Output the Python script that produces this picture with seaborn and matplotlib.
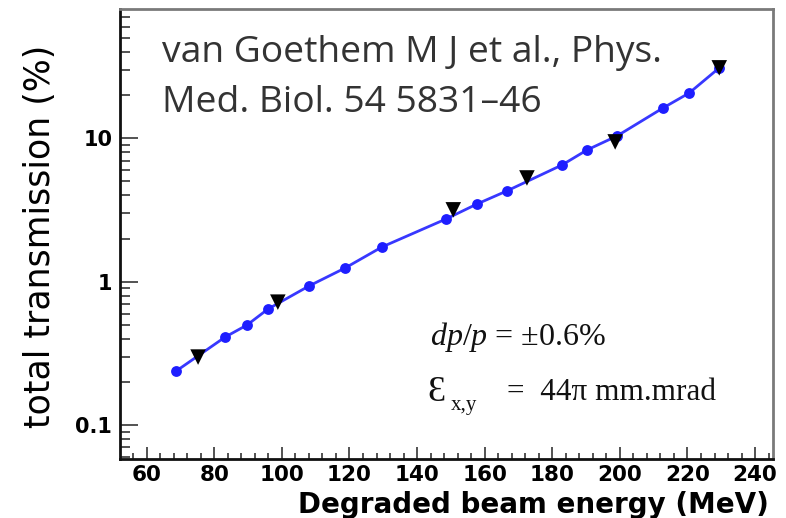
import matplotlib
matplotlib.use('Agg')
import matplotlib.pyplot as plt
import seaborn as sns
import pandas as pd
from matplotlib.ticker import MultipleLocator, LogLocator, NullFormatter, FixedLocator, FixedFormatter

# ---- data ----
energy_circ = [68.7, 83.2, 89.7, 95.9, 108.0, 118.7, 129.6, 148.6, 157.7,
               166.6, 182.9, 190.3, 199.2, 212.8, 220.5, 229.4]
trans_circ = [0.238, 0.411, 0.499, 0.645, 0.933, 1.246, 1.746, 2.74, 3.48,
              4.30, 6.52, 8.30, 10.4, 16.3, 20.7, 31.0]
energy_tri = [75.2, 98.8, 150.7, 172.5, 198.6, 229.4]
trans_tri = [0.298, 0.72, 3.17, 5.29, 9.44, 31.0]
x_ticks = [60, 80, 100, 120, 140, 160, 180, 200, 220, 240]
y_ticks = [0.1, 1, 10]
y_tick_labels = ['0.1', '1', '10']

sns.set_style('ticks')
plt.rcParams['font.family'] = ['DejaVu Sans']
plt.rcParams['mathtext.fontset'] = 'custom'
plt.rcParams['mathtext.rm'] = 'Liberation Serif'
plt.rcParams['mathtext.it'] = 'Liberation Serif:italic'

W, H = 786, 518
fig = plt.figure(figsize=(W / 100, H / 100), dpi=100)
L, R, T, B = 120, 773, 9.3, 459
ax = fig.add_axes([L / W, 1 - B / H, (R - L) / W, (B - T) / H])

blue = '#1e1eff'
df_c = pd.DataFrame({'energy': energy_circ, 'trans': trans_circ})
df_t = pd.DataFrame({'energy': energy_tri, 'trans': trans_tri})

sns.lineplot(data=df_c, x='energy', y='trans', ax=ax, color='#3838ff',
             linewidth=2.0, estimator=None, marker='o', markersize=7.8,
             markerfacecolor=blue, markeredgewidth=0, zorder=2)
sns.scatterplot(data=df_t, x='energy', y='trans', ax=ax, marker='v',
                s=125, color='black', edgecolor='none', zorder=3)

ax.set_yscale('log')
ax.set_xlim(52.1, 245.3)
ax.set_ylim(0.058, 79.4)

ax.xaxis.set_major_locator(FixedLocator(x_ticks))
ax.xaxis.set_minor_locator(MultipleLocator(4))
ax.yaxis.set_major_locator(FixedLocator(y_ticks))
ax.yaxis.set_major_formatter(FixedFormatter(y_tick_labels))
ax.yaxis.set_minor_locator(LogLocator(base=10, subs=[2, 3, 4, 5, 6, 7, 8, 9]))
ax.yaxis.set_minor_formatter(NullFormatter())

ax.tick_params(axis='both', which='both', direction='in', top=False, right=False,
               color='#444444', width=1.3, labelcolor='black')
ax.tick_params(axis='x', which='major', length=9, pad=4.0, labelsize=15.5)
ax.tick_params(axis='x', which='minor', length=4.5)
ax.tick_params(axis='y', which='major', length=13, pad=5.5, labelsize=15)
ax.tick_params(axis='y', which='minor', length=7)
for lab in ax.get_xticklabels() + ax.get_yticklabels():
    lab.set_fontweight('bold')

for s in ['left', 'bottom']:
    ax.spines[s].set_color('#111111')
    ax.spines[s].set_linewidth(2.0)
for s in ['top', 'right']:
    ax.spines[s].set_color('#7a7a7a')
    ax.spines[s].set_linewidth(2.0)

ax.set_xlabel('Degraded beam energy (MeV)', fontsize=20, fontweight='bold', color='black')
ax.xaxis.set_label_coords((533 - L) / (R - L), (B - 491) / (B - T))
ax.set_ylabel('total transmission (%)', fontsize=25, color='black')
ax.yaxis.set_label_coords((57 - L) / (R - L), (B - 236.5) / (B - T))

# citation text
fig.text(162 / W, 1 - 62 / H, 'van Goethem M J et al., Phys.', family='Open Sans',
         fontsize=26.8, color='#333333', va='baseline', ha='left')
fig.text(162 / W, 1 - 112 / H, 'Med. Biol. 54 5831–46', family='Open Sans',
         fontsize=26.8, color='#333333', va='baseline', ha='left')

# physics annotations
fig.text(430 / W, 1 - 345 / H, r'$dp/p$ = ±0.6%', family='Liberation Serif',
         fontsize=23, color='#111111', va='baseline', ha='left')
fig.text(427 / W, 1 - 401 / H, 'Ɛ', family='Liberation Serif',
         fontsize=26, color='#111111', va='baseline', ha='left')
fig.text(451 / W, 1 - 410 / H, 'x,y', family='Liberation Serif',
         fontsize=15, color='#111111', va='baseline', ha='left')
fig.text(507 / W, 1 - 400 / H, '=  44π mm.mrad', family='Liberation Serif',
         fontsize=22.5, color='#111111', va='baseline', ha='left')

fig.savefig('out.png', dpi=100)
